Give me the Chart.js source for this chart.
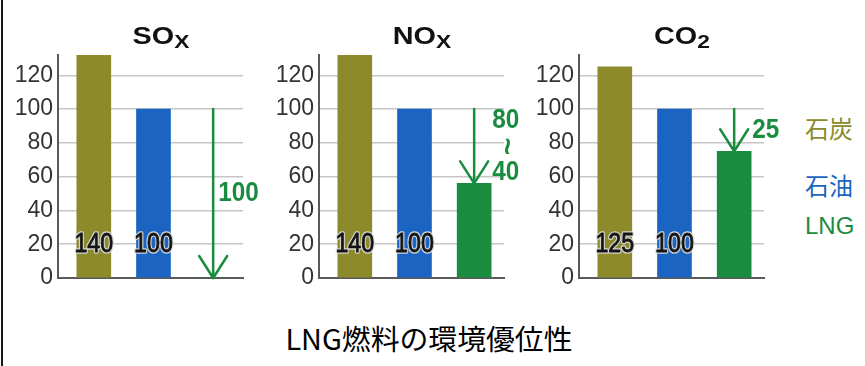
<!DOCTYPE html>
<html>
<head>
<meta charset="utf-8">
<script src="https://cdn.jsdelivr.net/npm/chart.js@4/dist/chart.umd.min.js"></script>
<style>
  html, body { margin: 0; padding: 0; background: #fff; }
  #page { position: relative; width: 865px; height: 366px; overflow: hidden; background: #fff; }
  #frame { position: absolute; left: 1px; top: 0; width: 2px; height: 366px; background: #161616; }
  .panel { position: absolute; top: 0; width: 260px; height: 300px; }
  .ptitle {
    position: absolute; top: 22px; height: 24px; line-height: 24px;
    font: bold 24px "Liberation Sans", Arial, sans-serif; color: #111;
    white-space: nowrap; transform: translateX(-50%) scaleX(1.2);
  }
  .ptitle .sub { position: relative; top: 4px; font-size: 19px; }
  .legend-item {
    position: absolute; left: 805px; height: 24px; line-height: 24px;
    font: 24px "Liberation Sans", "Noto Sans CJK JP", sans-serif; white-space: nowrap;
  }
  #caption {
    position: absolute; left: 429px; top: 318px; height: 28px; line-height: 28px;
    font: 28px "Noto Sans CJK JP", sans-serif; color: #000; white-space: nowrap;
    transform: translateX(-50%) scaleX(1.03);
  }
</style>
</head>
<body>
<div id="page">
  <div id="frame"></div>
  <div id="caption">LNG燃料の環境優位性</div>
</div>
<script>
// Emission index per fuel (oil = 100)
const categories = ['石炭', '石油', 'LNG'];
const barColors = ['#8c8a2b', '#1c64c1', '#1a8c3f'];
const panelNames = ['SO', 'NO', 'CO'];
const panelSubscripts = ['X', 'X', '2'];
const soxValues = [140, 100, 0];
const noxValues = [140, 100, 56];
const co2Values = [125, 100, 75];
const reductionLabels = [['100'], ['80', '~', '40'], ['25']];
const yTickValues = [0, 20, 40, 60, 80, 100, 120];
const yAxisMax = 132;
const valueLabelLevel = 20;

const panelValues = [soxValues, noxValues, co2Values];
const panelLefts = [0, 261, 521];
const legendCenters = [122, 179, 224];

Chart.defaults.font.family = '"Liberation Sans", Arial, sans-serif';
Chart.defaults.animation = false;

// Value labels on the coal/oil bars plus the green reduction arrow on the LNG bar
const annotate = {
  id: 'annotate',
  afterDatasetsDraw(chart, args, opts) {
    const ctx = chart.ctx;
    const y = chart.scales.y;
    const meta = chart.getDatasetMeta(0);
    const values = chart.data.datasets[0].data.map(d => d.y);
    ctx.save();

    const ly = y.getPixelForValue(valueLabelLevel);
    ctx.font = '27px "Liberation Sans", Arial, sans-serif';
    ctx.textAlign = 'center';
    ctx.textBaseline = 'middle';
    ctx.lineJoin = 'round';
    for (let i = 0; i < 2; i++) {
      ctx.save();
      ctx.translate(meta.data[i].x, ly);
      ctx.scale(0.86, 1);
      ctx.strokeStyle = 'rgba(215,215,215,0.95)';
      ctx.lineWidth = 3.5;
      ctx.strokeText(String(values[i]), 0, 0);
      ctx.fillStyle = '#141414';
      ctx.fillText(String(values[i]), 0, 0);
      ctx.strokeStyle = '#141414';
      ctx.lineWidth = 0.8;
      ctx.strokeText(String(values[i]), 0, 0);
      ctx.restore();
    }

    const green = barColors[2];
    const ax = meta.data[2].x;
    const yTop = y.getPixelForValue(values[1]);
    const yTip = y.getPixelForValue(values[2]);
    const hw = 14, hh = 22;
    ctx.strokeStyle = green;
    ctx.lineWidth = 2.5;
    ctx.lineCap = 'round';
    ctx.beginPath();
    ctx.moveTo(ax, yTop);
    ctx.lineTo(ax, yTip);
    ctx.stroke();
    ctx.beginPath();
    ctx.moveTo(ax - hw, yTip - hh);
    ctx.lineTo(ax, yTip);
    ctx.lineTo(ax + hw, yTip - hh);
    ctx.stroke();

    const lines = opts.lines;
    const gap = 26;
    const midY = (yTop + yTip) / 2;
    const blockTop = midY - lines.length * gap / 2;
    const blockBottom = midY + lines.length * gap / 2;
    const clearOfHead = blockBottom < yTip - hh;
    const lx = ax + (clearOfHead ? 5 : 18);
    ctx.fillStyle = green;
    ctx.textBaseline = 'middle';
    ctx.font = 'bold 27px "Liberation Sans", Arial, sans-serif';
    const digitW = ctx.measureText(lines[0]).width * 0.9;
    lines.forEach((t, k) => {
      const cy = blockTop + gap * (k + 0.5);
      ctx.save();
      if (t === '~') {
        ctx.translate(lx + digitW / 2, cy);
        ctx.rotate(Math.PI / 2);
        ctx.font = 'bold 30px "Liberation Sans", Arial, sans-serif';
        ctx.textAlign = 'center';
        ctx.fillText(t, 0, 0);
      } else {
        ctx.translate(lx, cy);
        ctx.scale(0.9, 1);
        ctx.textAlign = 'left';
        ctx.fillText(t, 0, 0);
      }
      ctx.restore();
    });
    ctx.restore();
  }
};

const page = document.getElementById('page');

panelValues.forEach((values, p) => {
  const wrap = document.createElement('div');
  wrap.className = 'panel';
  wrap.style.left = panelLefts[p] + 'px';
  const canvas = document.createElement('canvas');
  canvas.width = 260;
  canvas.height = 300;
  canvas.style.width = '260px';
  canvas.style.height = '300px';
  wrap.appendChild(canvas);
  page.appendChild(wrap);

  const title = document.createElement('div');
  title.className = 'ptitle';
  title.style.left = (panelLefts[p] + 161) + 'px';
  title.innerHTML = panelNames[p] + '<span class="sub">' + panelSubscripts[p] + '</span>';
  page.appendChild(title);

  new Chart(canvas, {
    type: 'bar',
    data: {
      labels: categories,
      datasets: [{
        data: values.map((v, i) => ({ x: i, y: v })),
        backgroundColor: barColors,
        borderWidth: 0,
        barThickness: 34
      }]
    },
    options: {
      responsive: false,
      devicePixelRatio: 1,
      layout: { padding: { top: 55, right: 17, bottom: 22, left: 0 } },
      plugins: {
        legend: { display: false },
        tooltip: { enabled: false },
        annotate: { lines: reductionLabels[p] }
      },
      scales: {
        x: {
          type: 'linear',
          offset: false,
          min: -0.6,
          max: categories.length - 0.5,
          grid: { display: false, offset: false },
          ticks: { display: false },
          border: { display: true, color: '#5a5a5a', width: 2 },
          afterFit(scale) { scale.height = 0; }
        },
        y: {
          min: 0,
          max: yAxisMax,
          afterBuildTicks(scale) { scale.ticks = yTickValues.map(v => ({ value: v })); },
          afterFit(scale) { scale.width = 58; },
          grid: {
            drawTicks: false,
            color: ctx => ctx.tick && ctx.tick.value === 0 ? 'rgba(0,0,0,0)' : '#c6c6c6',
            lineWidth: 1.5
          },
          border: { display: true, color: '#5a5a5a', width: 2 },
          ticks: {
            padding: 5,
            color: '#333',
            font: { size: 23 }
          }
        }
      }
    },
    plugins: [annotate]
  });
});

categories.forEach((name, i) => {
  const item = document.createElement('div');
  item.className = 'legend-item';
  item.style.top = (legendCenters[i] - 12) + 'px';
  item.style.color = barColors[i];
  item.textContent = name;
  page.appendChild(item);
});
</script>
</body>
</html>
